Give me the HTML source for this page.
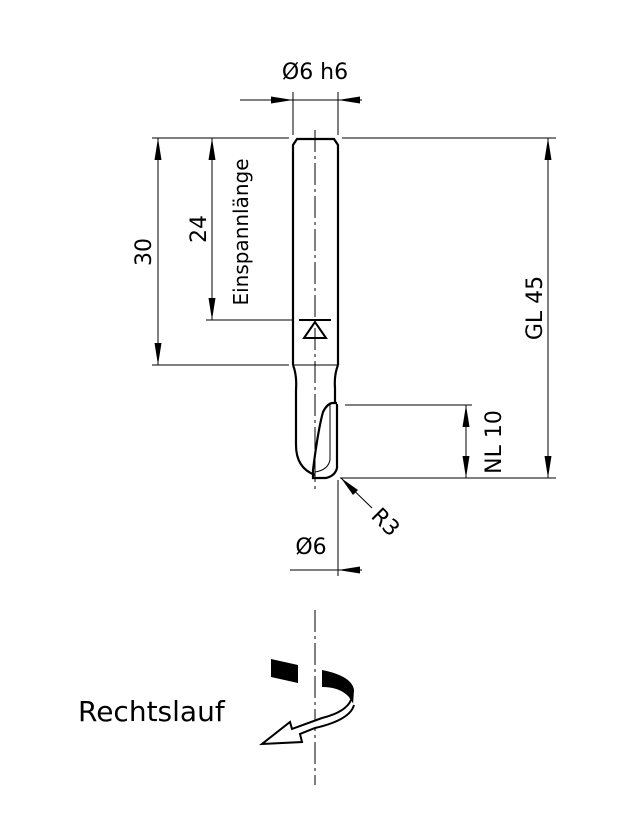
<!DOCTYPE html>
<html><head><style>body{margin:0;background:#fff}svg{display:block}</style></head>
<body>
<svg width="640" height="822" viewBox="0 0 640 822" xmlns="http://www.w3.org/2000/svg" font-family="'DejaVu Sans','Liberation Sans',sans-serif" fill="none" stroke="#000">
<g stroke-width="1">
<line x1="152" y1="138" x2="289" y2="138"/>
<line x1="342" y1="138" x2="556" y2="138"/>
<line x1="152" y1="365" x2="289" y2="365"/>
<line x1="206" y1="320" x2="293" y2="320"/>
<line x1="345" y1="405" x2="472" y2="405"/>
<line x1="340" y1="478" x2="556" y2="478"/>
<line x1="293" y1="92" x2="293" y2="135"/>
<line x1="338" y1="92" x2="338" y2="135"/>
<line x1="338" y1="480" x2="338" y2="576"/>
<line x1="158" y1="138" x2="158" y2="365"/>
<line x1="212" y1="138" x2="212" y2="320"/>
<line x1="548" y1="138" x2="548" y2="478"/>
<line x1="466" y1="405" x2="466" y2="478"/>
<line x1="240" y1="100" x2="362" y2="100"/>
<line x1="290" y1="570" x2="362" y2="570"/>
<line x1="372" y1="508" x2="341" y2="478"/>
<line x1="315" y1="130" x2="315" y2="490" stroke-dasharray="22,4,3,4"/>
<line x1="315" y1="610" x2="315" y2="785" stroke-dasharray="22,4,3,4"/>
</g>
<g fill="#000" stroke="none">
<polygon points="158,138 154.5,160 161.5,160"/>
<polygon points="158,365 154.5,343 161.5,343"/>
<polygon points="212,138 208.5,160 215.5,160"/>
<polygon points="212,320 208.5,298 215.5,298"/>
<polygon points="548,138 544.5,160 551.5,160"/>
<polygon points="548,478 544.5,456 551.5,456"/>
<polygon points="466,405 462.5,427 469.5,427"/>
<polygon points="466,478 462.5,456 469.5,456"/>
<polygon points="293,100 271,96.5 271,103.5"/>
<polygon points="338,100 360,96.5 360,103.5"/>
<polygon points="338,570 360,566.5 360,573.5"/>
<polygon points="341,478 358,490 353,495"/>
</g>
<g stroke-width="2.2">
<path d="M293,365 L293,145 L297,139 L334,139 L338,145 L338,365"/>
<line x1="293" y1="365" x2="338" y2="365" stroke-width="1"/>
<path d="M293,365 Q297,375 296,390 L296,445 Q296,468 315,475"/>
<path d="M338,365 Q334,375 335,388 L335,403"/>
<path d="M337,404 L337,468 Q335,476 326,478 L313,478 L313,470 Q318,430 323,412 Q327,404 332,403 L337,403"/>
<path d="M330,404 L330,460 Q328,470 315,472" stroke-width="1"/>
<line x1="299" y1="320" x2="331" y2="320" stroke-width="2"/>
<path d="M315,322 L304,338 L326,338 Z" stroke-width="2"/>
</g>
<path d="M271,659 L298,665 L298,683 L271,677 Z" fill="#000" stroke="none"/>
<path d="M322,670 Q352,676 354,690 L353,705 L349,697 Q340,687 322,687 Z" fill="#000" stroke="none"/>
<path d="M354,705 Q350,720 315,728 L300,734 L302,742 L262,744 L290,722 L292,729 L322,718 Q346,712 351,700" stroke="#000" stroke-width="2" fill="#fff"/>
<g fill="#000" stroke="none" font-size="22">
<text x="315" y="79" text-anchor="middle">Ø6 h6</text>
<text x="311" y="554" text-anchor="middle">Ø6</text>
<text transform="translate(151,252) rotate(-90)" text-anchor="middle">30</text>
<text transform="translate(206,229) rotate(-90)" text-anchor="middle">24</text>
<text transform="translate(248,232) rotate(-90)" text-anchor="middle" font-size="20">Einspannlänge</text>
<text transform="translate(542,308) rotate(-90)" text-anchor="middle">GL 45</text>
<text transform="translate(501,442) rotate(-90)" text-anchor="middle">NL 10</text>
<text transform="translate(370,517) rotate(45)">R3</text>
<text x="78" y="721" font-size="28">Rechtslauf</text>
</g>
</svg>
</body></html>
